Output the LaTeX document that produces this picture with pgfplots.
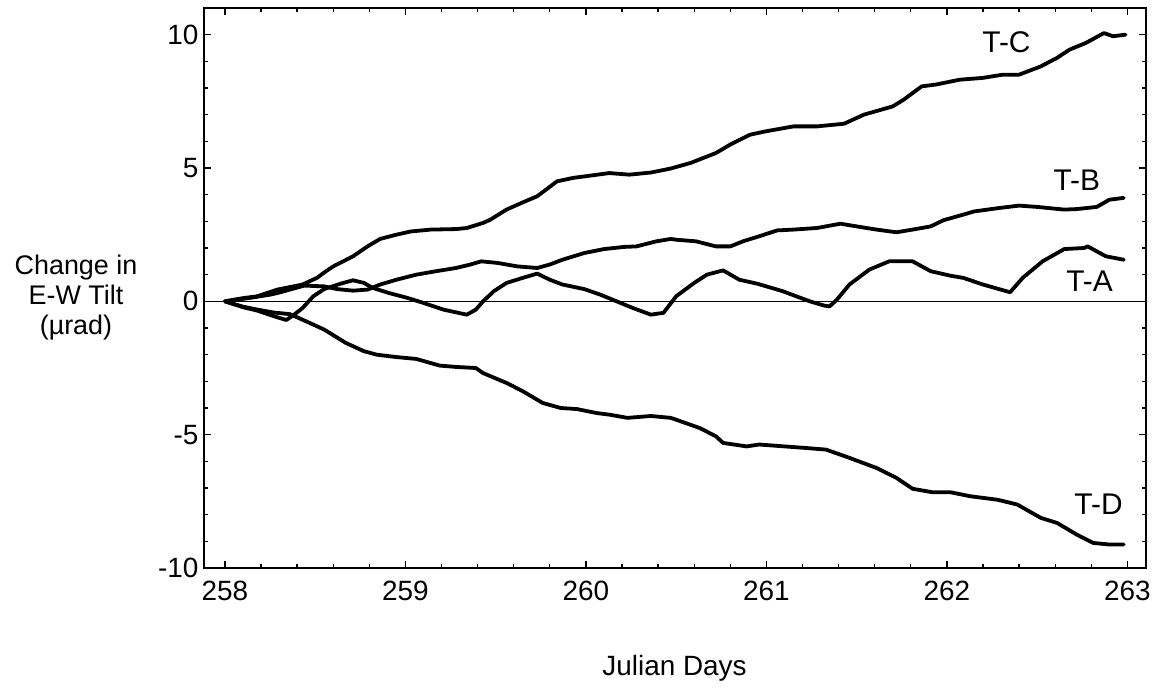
\documentclass[border=0pt]{standalone}
\usepackage{pgfplots}
\pgfplotsset{compat=1.18}
\usepackage{pgfplotstable}
\usepackage{fontspec}
\setmainfont{Liberation Sans}

\pgfplotstableread{
x y
258 0
258.10 0.12
258.18 0.19
258.29 0.44
258.43 0.63
258.51 0.88
258.56 1.13
258.60 1.31
258.71 1.69
258.79 2.06
258.86 2.34
258.95 2.50
259.03 2.62
259.14 2.69
259.28 2.71
259.34 2.75
259.43 2.94
259.47 3.06
259.56 3.44
259.65 3.71
259.73 3.94
259.84 4.50
259.93 4.63
260.02 4.71
260.13 4.81
260.24 4.75
260.36 4.83
260.47 4.98
260.58 5.19
260.72 5.56
260.80 5.88
260.91 6.25
261.00 6.38
261.15 6.56
261.28 6.56
261.43 6.66
261.54 7.00
261.70 7.31
261.76 7.56
261.86 8.06
261.94 8.13
262.07 8.31
262.20 8.38
262.31 8.50
262.40 8.50
262.52 8.81
262.61 9.13
262.68 9.44
262.77 9.69
262.87 10.06
262.92 9.94
262.99 10.00
}\TC

\pgfplotstableread{
x y
258 0
258.14 0.13
258.25 0.25
258.29 0.31
258.36 0.44
258.44 0.59
258.55 0.56
258.62 0.46
258.71 0.40
258.79 0.44
258.86 0.63
258.95 0.81
259.06 1.00
259.17 1.13
259.28 1.25
259.36 1.38
259.42 1.50
259.51 1.44
259.62 1.31
259.73 1.25
259.80 1.38
259.87 1.56
259.99 1.81
260.10 1.96
260.21 2.04
260.28 2.06
260.39 2.25
260.47 2.34
260.50 2.31
260.61 2.25
260.72 2.06
260.80 2.06
260.87 2.25
260.96 2.44
261.06 2.66
261.15 2.69
261.28 2.75
261.41 2.91
261.50 2.81
261.61 2.69
261.72 2.59
261.81 2.69
261.91 2.81
261.98 3.04
262.09 3.25
262.15 3.37
262.29 3.50
262.40 3.59
262.50 3.54
262.65 3.44
262.72 3.46
262.83 3.54
262.90 3.81
262.98 3.88
}\TB

\pgfplotstableread{
x y
258 0
258.10 -0.22
258.18 -0.35
258.29 -0.60
258.34 -0.70
258.38 -0.52
258.43 -0.25
258.49 0.19
258.55 0.46
258.64 0.66
258.71 0.79
258.77 0.69
258.82 0.50
258.91 0.31
259.01 0.13
259.10 -0.06
259.21 -0.31
259.34 -0.50
259.39 -0.31
259.43 0.00
259.49 0.38
259.56 0.69
259.65 0.88
259.73 1.04
259.80 0.81
259.87 0.63
259.99 0.46
260.08 0.25
260.17 0.00
260.26 -0.25
260.36 -0.50
260.43 -0.43
260.50 0.19
260.60 0.69
260.67 1.00
260.76 1.16
260.85 0.81
260.95 0.66
261.09 0.38
261.24 0.00
261.32 -0.16
261.35 -0.19
261.39 0.06
261.46 0.63
261.57 1.19
261.68 1.50
261.81 1.50
261.91 1.13
262.02 0.96
262.09 0.88
262.20 0.63
262.35 0.34
262.42 0.88
262.53 1.50
262.65 1.96
262.76 2.00
262.78 2.06
262.88 1.69
262.98 1.56
}\TA

\pgfplotstableread{
x y
258 0
258.10 -0.20
258.18 -0.31
258.27 -0.42
258.36 -0.48
258.45 -0.75
258.55 -1.06
258.67 -1.56
258.77 -1.87
258.84 -2.00
258.95 -2.09
259.06 -2.16
259.19 -2.41
259.28 -2.46
259.39 -2.50
259.43 -2.69
259.56 -3.06
259.65 -3.37
259.76 -3.81
259.86 -4.00
259.95 -4.04
260.06 -4.19
260.13 -4.25
260.23 -4.37
260.36 -4.30
260.47 -4.37
260.50 -4.44
260.63 -4.75
260.72 -5.06
260.76 -5.31
260.89 -5.44
260.96 -5.37
261.22 -5.50
261.33 -5.56
261.46 -5.87
261.61 -6.25
261.72 -6.62
261.81 -7.03
261.92 -7.16
262.02 -7.16
262.13 -7.31
262.28 -7.44
262.39 -7.62
262.52 -8.12
262.61 -8.31
262.72 -8.75
262.81 -9.06
262.90 -9.12
262.98 -9.12
}\TD

\begin{document}
\begin{tikzpicture}
\useasboundingbox (0,0) rectangle (1168bp,692bp);
\begin{axis}[
  at={(204bp,124bp)}, anchor=south west,
  scale only axis, width=942bp, height=560bp,
  xmin=257.884, xmax=263.103,
  ymin=-10, ymax=11,
  xtick={258,259,260,261,262,263},
  ytick={-10,-5,0,5,10},
  minor x tick num=4,
  minor y tick num=4,
  xtick pos=both, ytick pos=both,
  tick align=inside,
  major tick length=7bp, minor tick length=4bp,
  every tick/.style={black, line width=1.3bp},
  axis line style={line width=2bp},
  /pgf/number format/assume math mode=true,
  /pgf/number format/1000 sep={},
  xticklabel style={font=\fontsize{28}{32}\selectfont, yshift=-10bp},
  yticklabel style={font=\fontsize{28}{32}\selectfont, xshift=-2bp},
  clip=false,
]
\addplot[black, line width=1.5bp] coordinates {(257.884,0) (263.103,0)};
\addplot[black, line width=3.8bp, line join=round, line cap=round] table[x=x,y=y] {\TC};
\addplot[black, line width=3.8bp, line join=round, line cap=round] table[x=x,y=y] {\TB};
\addplot[black, line width=3.8bp, line join=round, line cap=round] table[x=x,y=y] {\TA};
\addplot[black, line width=3.8bp, line join=round, line cap=round] table[x=x,y=y] {\TD};
\node[font=\fontsize{30}{34}\selectfont] at (axis cs:262.33,9.70) {T-C};
\node[font=\fontsize{30}{34}\selectfont] at (axis cs:262.72,4.56) {T-B};
\node[font=\fontsize{30}{34}\selectfont] at (axis cs:262.79,0.77) {T-A};
\node[font=\fontsize{30}{34}\selectfont] at (axis cs:262.84,-7.59) {T-D};
\node[font=\fontsize{27}{30}\selectfont, align=center] at (axis description cs:-0.1359,0.483) {Change in\\E-W Tilt\\(µrad)};
\node[font=\fontsize{28}{32}\selectfont] at (axis description cs:0.4995,-0.179) {Julian Days};
\end{axis}
\end{tikzpicture}
\end{document}
